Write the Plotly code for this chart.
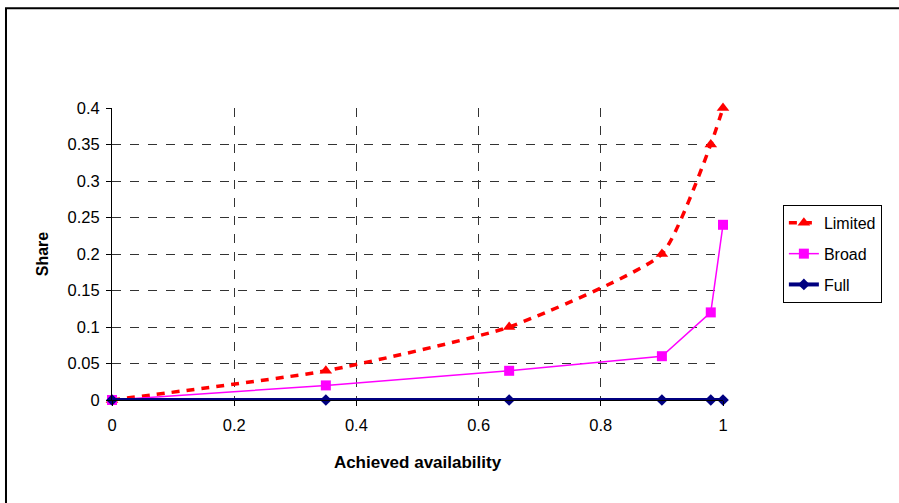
import plotly.graph_objects as go

x_vals = [0, 0.35, 0.65, 0.9, 0.98, 1]
limited = [0, 0.04, 0.10, 0.20, 0.35, 0.40]
broad = [0, 0.02, 0.04, 0.06, 0.12, 0.24]
full = [0, 0, 0, 0, 0, 0]

fig = go.Figure()
fig.add_trace(go.Scatter(x=x_vals, y=limited, name="Limited", mode="lines+markers", legendgroup="a",
                         line=dict(color="#FF0000", width=3.5, dash="8px,7px", shape="spline", smoothing=0.5),
                         marker=dict(symbol="triangle-up", size=11, color="#FF0000"),
                         cliponaxis=False))
fig.add_trace(go.Scatter(x=x_vals, y=broad, name="Broad", mode="lines+markers", legendgroup="b",
                         line=dict(color="#FF00FF", width=1.5),
                         marker=dict(symbol="square", size=10, color="#FF00FF"),
                         cliponaxis=False))
fig.add_trace(go.Scatter(x=x_vals, y=full, name="Full", mode="lines+markers", legendgroup="c",
                         line=dict(color="#000080", width=4),
                         marker=dict(symbol="diamond", size=9, color="#000080"),
                         cliponaxis=False))

fig.add_shape(type="rect", xref="paper", yref="paper", x0=-0.1735, y0=-0.6, x1=1.6, y1=1.342,
              line=dict(color="black", width=2), fillcolor="rgba(0,0,0,0)", layer="below")

fig.update_layout(
    width=899, height=503,
    margin=dict(l=112, r=176, t=108, b=103, autoexpand=False),
    paper_bgcolor="white", plot_bgcolor="white",
    font=dict(family="Arial, Liberation Sans", size=16, color="black"),
    showlegend=True,
    legend=dict(x=1.098, y=0.668, xanchor="left", yanchor="top",
                bordercolor="black", borderwidth=1, bgcolor="white",
                font=dict(size=16), itemwidth=30, tracegroupgap=7),
    xaxis=dict(range=[0, 1], dtick=0.2, tickformat="~g", tickfont=dict(size=16.5),
               showgrid=True, gridcolor="#333333", griddash="dash", gridwidth=1,
               showline=True, linecolor="black", linewidth=1, ticklabelstandoff=5,
               ticks="outside", ticklen=5, tickcolor="black", zeroline=False,
               title=dict(text="<b>Achieved availability</b>", font=dict(size=17), standoff=23)),
    yaxis=dict(range=[0, 0.4], dtick=0.05, tickformat="~g", tickfont=dict(size=16.5),
               showgrid=True, gridcolor="#333333", griddash="dash", gridwidth=1,
               showline=True, linecolor="black", linewidth=1, ticklabelstandoff=3,
               ticks="outside", ticklen=5, tickcolor="black", zeroline=False,
               title=dict(text="<b>Share</b>", font=dict(size=16), standoff=14)),
)

fig.write_html("out.html")
